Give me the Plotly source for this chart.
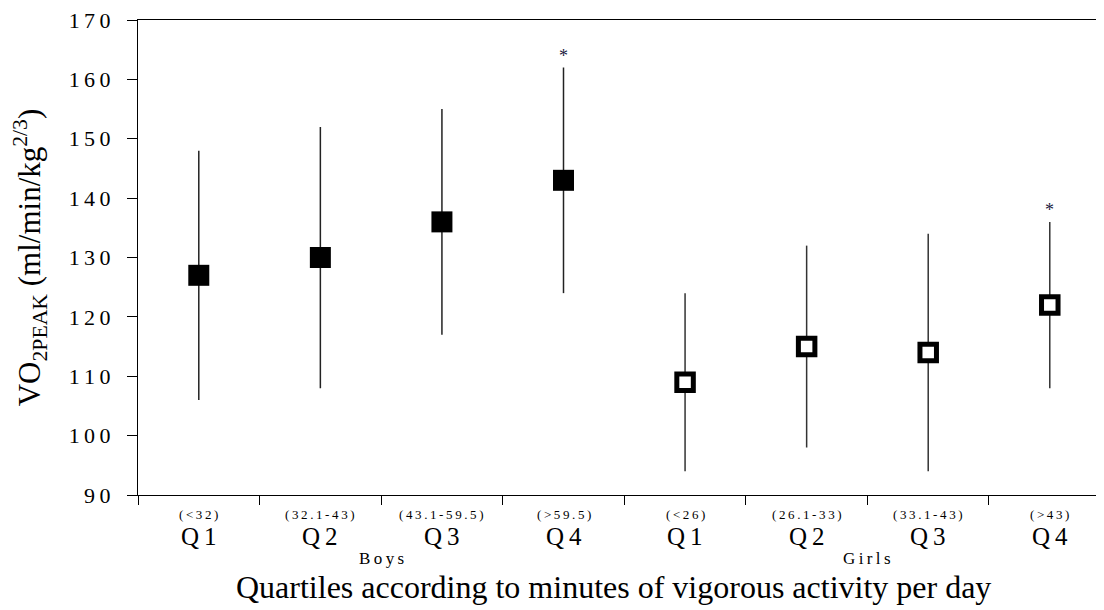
import plotly.graph_objects as go

# ---------------- data ----------------
groups = ["Boys", "Girls"]
quartile_names = ["Q1", "Q2", "Q3", "Q4"]
boys_ranges = ["(<32)", "(32.1-43)", "(43.1-59.5)", "(>59.5)"]
girls_ranges = ["(<26)", "(26.1-33)", "(33.1-43)", "(>43)"]

boys_mean = [127, 130, 136, 143]
boys_low = [106, 108, 117, 124]
boys_high = [148, 152, 155, 162]
boys_sig = [False, False, False, True]

girls_mean = [109, 115, 114, 122]
girls_low = [94, 98, 94, 108]
girls_high = [124, 132, 134, 136]
girls_sig = [False, False, False, True]

y_ticks = [90, 100, 110, 120, 130, 140, 150, 160, 170]

x_title = "Quartiles according to minutes of vigorous activity per day"
y_title = "VO<sub>2PEAK</sub> (ml/min/kg<sup>2/3</sup>)"

# ---------------- figure ----------------
FONT = "Liberation Serif"
TS = "\u2009"  # thin space used for the letter-spaced look


def spaced(s):
    return TS.join(list(s))


boys_x = [i + 1 for i in range(len(boys_mean))]
girls_x = [len(boys_mean) + i + 1 for i in range(len(girls_mean))]
n_cat = len(boys_x) + len(girls_x)

fig = go.Figure()

fig.add_trace(go.Scatter(
    x=boys_x, y=boys_mean, mode="markers", name="Boys",
    marker=dict(symbol="square", size=21, color="black", line=dict(width=0)),
    error_y=dict(type="data", symmetric=False,
                 array=[h - m for h, m in zip(boys_high, boys_mean)],
                 arrayminus=[m - l for m, l in zip(boys_mean, boys_low)],
                 width=0, thickness=1.5, color="#222222"),
    showlegend=False,
))

fig.add_trace(go.Scatter(
    x=girls_x, y=girls_mean, mode="markers", name="Girls",
    marker=dict(symbol="square", size=16.5, color="white",
                line=dict(width=5, color="black")),
    error_y=dict(type="data", symmetric=False,
                 array=[h - m for h, m in zip(girls_high, girls_mean)],
                 arrayminus=[m - l for m, l in zip(girls_mean, girls_low)],
                 width=0, thickness=1.5, color="#333333"),
    showlegend=False,
))

annotations = []

# significance stars
for xs, highs, sigs in [(boys_x, boys_high, boys_sig), (girls_x, girls_high, girls_sig)]:
    for x, h, s in zip(xs, highs, sigs):
        if s:
            annotations.append(dict(x=x, y=h, xref="x", yref="y", text="*",
                                    showarrow=False, yanchor="bottom",
                                    yshift=0,
                                    font=dict(family=FONT, size=18, color="#1a1a40")))

# category labels (range on top, quartile name below)
for xs, ranges in [(boys_x, boys_ranges), (girls_x, girls_ranges)]:
    for x, r, q in zip(xs, ranges, quartile_names):
        annotations.append(dict(x=x, y=0, xref="x", yref="paper", text=spaced(r),
                                showarrow=False, yanchor="top", yshift=-10,
                                font=dict(family=FONT, size=13, color="black")))
        annotations.append(dict(x=x, y=0, xref="x", yref="paper", text=spaced(q),
                                showarrow=False, yanchor="top", yshift=-26,
                                font=dict(family=FONT, size=25, color="black")))

# group labels
group_centers = [(boys_x[0] + boys_x[-1]) / 2, (girls_x[0] + girls_x[-1]) / 2]
for g, c in zip(groups, group_centers):
    annotations.append(dict(x=c, y=0, xref="x", yref="paper", text=spaced(g),
                            showarrow=False, yanchor="top", yshift=-52,
                            font=dict(family=FONT, size=17, color="black")))

# x-axis title
annotations.append(dict(x=0.5, y=0, xref="paper", yref="paper",
                        text=x_title,
                        showarrow=False, yanchor="top", yshift=-72, xshift=-8,
                        font=dict(family=FONT, size=32, color="black")))

# the page body has an 8px margin, so the figure is sized to fill the rest
fig.update_layout(
    width=1096, height=602,
    margin=dict(l=130, r=0, t=12, b=115),
    paper_bgcolor="white", plot_bgcolor="white",
    font=dict(family=FONT, color="black"),
    annotations=annotations,
    xaxis=dict(
        range=[0.5, n_cat + 0.446],
        tickvals=[i + 0.5 for i in range(n_cat + 1)],
        showticklabels=False,
        ticks="outside", ticklen=9, tickwidth=1.2, tickcolor="black",
        showline=True, linecolor="black", linewidth=1.2, mirror=True,
        showgrid=False, zeroline=False,
    ),
    yaxis=dict(
        range=[90, 170],
        tickvals=y_ticks,
        ticktext=[spaced(str(v)) for v in y_ticks],
        ticks="outside", ticklen=10, tickwidth=1.2, tickcolor="black",
        ticklabelstandoff=12,
        ticklabeloverflow="allow",
        tickfont=dict(family=FONT, size=22, color="black"),
        showline=True, linecolor="black", linewidth=1.2,
        showgrid=False, zeroline=False,
        title=dict(text=y_title,
                   font=dict(family=FONT, size=31, color="black"),
                   standoff=28),
    ),
)

fig.write_html("out.html")
